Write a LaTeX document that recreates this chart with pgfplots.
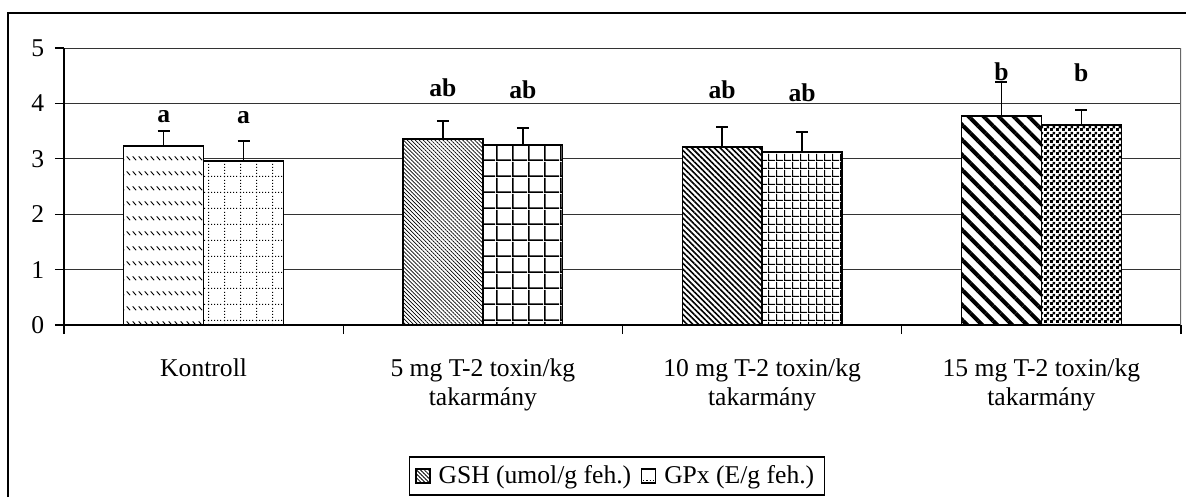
\documentclass[border=0pt]{standalone}
\usepackage{fontspec}
\setmainfont{Liberation Serif}
\usepackage{pgfplots}
\pgfplotsset{compat=1.18}
\usetikzlibrary{patterns,patterns.meta}

\pgfdeclarepatternformonly{dotgrid}{\pgfpointorigin}{\pgfqpoint{8pt}{8pt}}{\pgfqpoint{8pt}{8pt}}{
  \pgfsetlinewidth{0.55pt}
  \pgfsetdash{{0.55pt}{1.05pt}}{0pt}
  \pgfpathmoveto{\pgfqpoint{0pt}{0.3pt}}\pgfpathlineto{\pgfqpoint{8pt}{0.3pt}}
  \pgfpathmoveto{\pgfqpoint{0.3pt}{0pt}}\pgfpathlineto{\pgfqpoint{0.3pt}{8pt}}
  \pgfusepath{stroke}
}
\pgfdeclarepatternformonly{dashdiag}{\pgfpointorigin}{\pgfqpoint{3pt}{7.5pt}}{\pgfqpoint{3pt}{7.5pt}}{
  \pgfsetlinewidth{0.5pt}
  \pgfpathmoveto{\pgfqpoint{0.4pt}{5.6pt}}\pgfpathlineto{\pgfqpoint{2.4pt}{3.6pt}}
  \pgfusepath{stroke}
}
\pgfdeclarepatternformonly{fcheck}{\pgfpointorigin}{\pgfqpoint{3pt}{3pt}}{\pgfqpoint{3pt}{3pt}}{
  \pgfpathrectangle{\pgfqpoint{0pt}{0pt}}{\pgfqpoint{1.6pt}{1.6pt}}
  \pgfpathrectangle{\pgfqpoint{1.5pt}{1.5pt}}{\pgfqpoint{1.5pt}{1.5pt}}
  \pgfusepath{fill}
}
\pgfdeclarepatternformonly{biggrid}{\pgfpointorigin}{\pgfqpoint{8pt}{8pt}}{\pgfqpoint{8pt}{8pt}}{
  \pgfsetlinewidth{0.85pt}
  \pgfpathmoveto{\pgfqpoint{0pt}{0.45pt}}\pgfpathlineto{\pgfqpoint{8pt}{0.45pt}}
  \pgfpathmoveto{\pgfqpoint{0.45pt}{0pt}}\pgfpathlineto{\pgfqpoint{0.45pt}{8pt}}
  \pgfusepath{stroke}
}
\pgfdeclarepatternformonly{smallgrid}{\pgfpointorigin}{\pgfqpoint{4pt}{4pt}}{\pgfqpoint{4pt}{4pt}}{
  \pgfsetlinewidth{0.65pt}
  \pgfpathmoveto{\pgfqpoint{0pt}{0.35pt}}\pgfpathlineto{\pgfqpoint{4pt}{0.35pt}}
  \pgfpathmoveto{\pgfqpoint{0.35pt}{0pt}}\pgfpathlineto{\pgfqpoint{0.35pt}{4pt}}
  \pgfusepath{stroke}
}

\begin{document}
\fontsize{12.8}{14.5}\selectfont
\begin{tikzpicture}
\begin{axis}[
  at={(0,0)}, anchor=south west,
  scale only axis, width=558.5pt, height=138.5pt,
  xmin=-0.5, xmax=3.5, ymin=0, ymax=5,
  axis x line*=bottom, axis y line*=left,
  axis line style={black, line width=0.7pt},
  ytick={0,1,2,3,4,5},
  ymajorgrids, grid style={black!80, line width=0.5pt},
  tick align=outside, major tick length=4.5pt,
  tick style={black, line width=0.6pt},
  /pgf/number format/assume math mode=true,
  yticklabel style={xshift=-1pt},
  xtick={0,1,2,3},
  xticklabels={Kontroll, {5 mg T-2 toxin/kg\\takarmány}, {10 mg T-2 toxin/kg\\takarmány}, {15 mg T-2 toxin/kg\\takarmány}},
  xticklabel style={align=center, anchor=north, yshift=-8pt},
  major x tick style={draw=none},
  extra x ticks={-0.5,0.5,1.5,2.5,3.5},
  extra x tick labels={},
  extra x tick style={major x tick style={draw=black, line width=0.6pt}, major tick length=4.5pt, tick align=outside},
  ybar, bar width=0.286,
  error bars/y dir=plus, error bars/y explicit,
  error bars/error bar style={black, line width=0.8pt},
  error bars/error mark options={rotate=90, mark size=3pt, black, line width=0.8pt},
  legend columns=2,
  legend style={at={(0.495,-0.545)}, anchor=center, draw=black, line width=0.7pt,
    inner xsep=3pt, inner ysep=2pt,
    /tikz/every odd column/.append style={column sep=2pt},
    /tikz/every even column/.append style={column sep=3pt}},
  legend cell align=left,
  legend image code/.code={\draw[#1, line width=0.5pt] (0pt,-3.5pt) rectangle (7pt,3.5pt);},
  every axis plot/.append style={draw=black, line width=0.7pt, preaction={fill=white}},
]
% GSH
\addplot[forget plot, pattern=dashdiag, bar shift=-0.143] coordinates {(0,3.23) +- (0,0.27)};
\addplot[forget plot, pattern={Lines[angle=-45, distance=1.4pt, line width=0.35pt]}, bar shift=-0.143] coordinates {(1,3.36) +- (0,0.32)};
\addplot[forget plot, pattern={Lines[angle=-45, distance=2pt, line width=0.8pt]}, bar shift=-0.143] coordinates {(2,3.21) +- (0,0.36)};
\addplot[forget plot, pattern={Lines[angle=-45, distance=5.3pt, line width=2pt]}, bar shift=-0.143] coordinates {(3,3.77) +- (0,0.62)};
% GPx
\addplot[forget plot, pattern=dotgrid, bar shift=0.143] coordinates {(0,2.96) +- (0,0.36)};
\addplot[forget plot, pattern=biggrid, bar shift=0.143] coordinates {(1,3.25) +- (0,0.31)};
\addplot[forget plot, pattern=smallgrid, bar shift=0.143] coordinates {(2,3.12) +- (0,0.36)};
\addplot[forget plot, pattern=fcheck, bar shift=0.143] coordinates {(3,3.61) +- (0,0.27)};

\addlegendimage{pattern={Lines[angle=-45, distance=1.4pt, line width=0.4pt]}}
\addlegendentry{GSH (umol/g feh.)}
\addlegendimage{pattern=dotgrid}
\addlegendentry{GPx (E/g feh.)}

\draw[black!60, line width=0.6pt] (rel axis cs:1,0) -- (rel axis cs:1,1);

\node[anchor=base, font=\bfseries] at (axis cs:-0.143,3.65) {a};
\node[anchor=base, font=\bfseries] at (axis cs:0.143,3.63) {a};
\node[anchor=base, font=\bfseries] at (axis cs:0.857,4.13) {ab};
\node[anchor=base, font=\bfseries] at (axis cs:1.143,4.08) {ab};
\node[anchor=base, font=\bfseries] at (axis cs:1.857,4.08) {ab};
\node[anchor=base, font=\bfseries] at (axis cs:2.143,4.04) {ab};
\node[anchor=base, font=\bfseries] at (axis cs:2.857,4.42) {b};
\node[anchor=base, font=\bfseries] at (axis cs:3.143,4.39) {b};
\end{axis}
\draw[black, line width=0.7pt] (-28pt,-86pt) -- (-28pt,156pt) -- (561pt,156pt);
\pgfresetboundingbox
\path (-32pt,-86pt) rectangle (561pt,162.5pt);
\end{tikzpicture}
\end{document}
